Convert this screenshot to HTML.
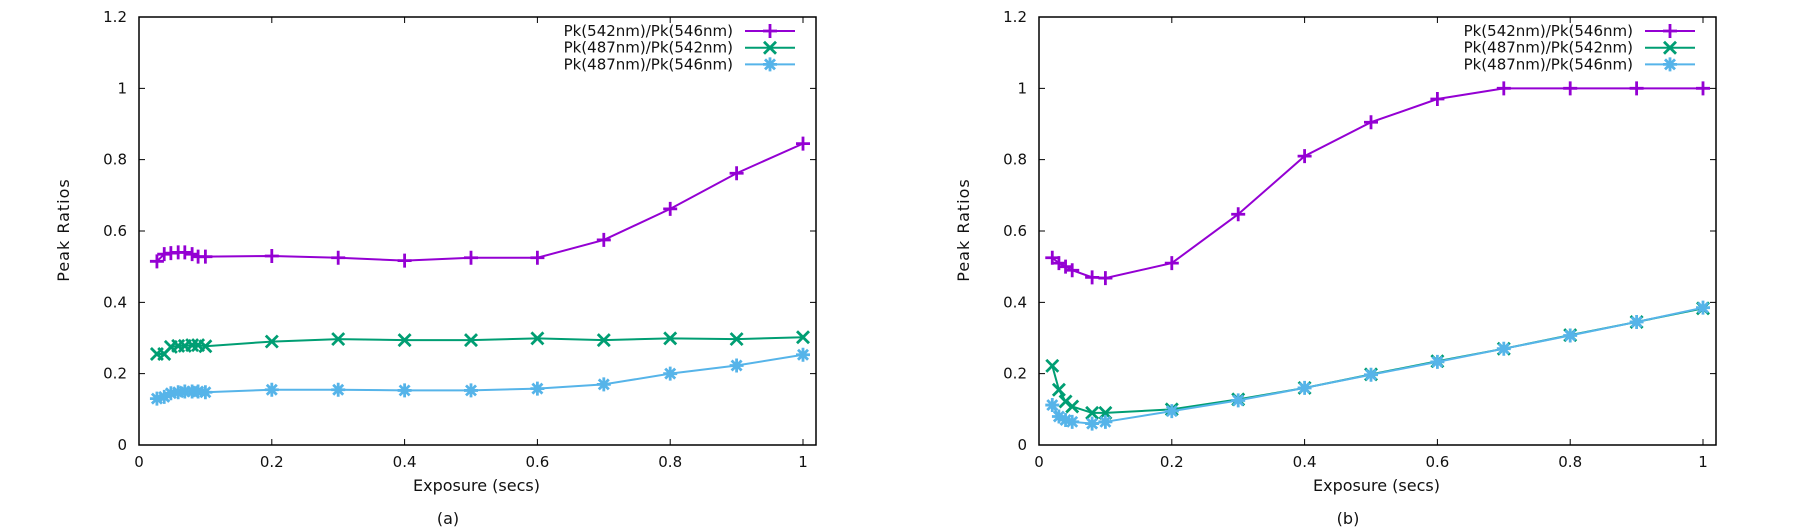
<!DOCTYPE html>
<html><head><meta charset="utf-8"><style>
body{margin:0;background:#fff;width:1800px;height:532px;overflow:hidden}
svg{display:block}
text{font-family:"DejaVu Sans","Liberation Sans",sans-serif;fill:#111}
</style></head><body>
<svg id="chart" width="1800" height="532"></svg>
<script>
const yTicks=[0,0.2,0.4,0.6,0.8,1,1.2];
const yTickLabels=["0","0.2","0.4","0.6","0.8","1","1.2"];
const xTicks=[0,0.2,0.4,0.6,0.8,1];
const xTickLabels=["0","0.2","0.4","0.6","0.8","1"];
const seriesNames=["Pk(542nm)/Pk(546nm)","Pk(487nm)/Pk(542nm)","Pk(487nm)/Pk(546nm)"];
const xA=[0.027,0.038,0.048,0.059,0.069,0.08,0.089,0.1,0.2,0.3,0.4,0.5,0.6,0.7,0.8,0.9,1.0];
const a542_546=[0.515,0.535,0.538,0.54,0.54,0.535,0.528,0.528,0.53,0.525,0.517,0.525,0.525,0.575,0.662,0.762,0.845];
const a487_542=[0.255,0.255,0.275,0.278,0.278,0.28,0.28,0.277,0.29,0.297,0.294,0.294,0.299,0.294,0.299,0.297,0.302];
const a487_546=[0.13,0.135,0.145,0.148,0.15,0.15,0.15,0.148,0.155,0.155,0.153,0.153,0.158,0.17,0.2,0.223,0.253];
const xB=[0.02,0.03,0.04,0.05,0.08,0.1,0.2,0.3,0.4,0.5,0.6,0.7,0.8,0.9,1.0];
const b542_546=[0.525,0.51,0.5,0.49,0.47,0.468,0.51,0.647,0.81,0.905,0.97,1,1,1,1];
const b487_542=[0.222,0.155,0.122,0.108,0.09,0.09,0.1,0.128,0.16,0.198,0.235,0.27,0.308,0.345,0.383];
const b487_546=[0.112,0.08,0.07,0.065,0.06,0.065,0.095,0.125,0.16,0.197,0.233,0.27,0.307,0.345,0.385];
const panelLabels=["(a)","(b)"];
const colors=["#9400d3","#009e73","#56b4e9"];
const NS="http://www.w3.org/2000/svg";
const svg=document.getElementById('chart');
function mk(tag,attrs,parent,txt){const e=document.createElementNS(NS,tag);for(const k in attrs)e.setAttribute(k,attrs[k]);if(txt!==undefined)e.textContent=txt;(parent||svg).appendChild(e);return e;}
function marker(g,type,cx,cy,color){
  const s=7;let d;
  if(type===0)d=`M${cx-s} ${cy}H${cx+s}M${cx} ${cy-s}V${cy+s}`;
  else if(type===1)d=`M${cx-s+1} ${cy-s+1}L${cx+s-1} ${cy+s-1}M${cx-s+1} ${cy+s-1}L${cx+s-1} ${cy-s+1}`;
  else d=`M${cx-s} ${cy}H${cx+s}M${cx} ${cy-s}V${cy+s}M${cx-5} ${cy-5}L${cx+5} ${cy+5}M${cx-5} ${cy+5}L${cx+5} ${cy-5}`;
  const p=mk('path',{d:d,stroke:color,'stroke-width':2.8,fill:'none'},g);
  
  
}
function panel(ox,xs,series,label){
  const L=139+ox,R=816+ox,T=17,B=445;
  const X=v=>L+v*664, Y=v=>B-v*(B-T)/1.2;
  const g=mk('g',{});
  
  
  const f=mk('rect',{x:L,y:T,width:R-L,height:B-T,fill:'none',stroke:'#000','stroke-width':1.5},g);
  
  yTicks.forEach((v,i)=>{const y=Y(v);
    mk('path',{d:`M${L} ${y}h6M${R} ${y}h-6`,stroke:'#000','stroke-width':1},g);
    const t=mk('text',{x:L-12,y:y+5,'text-anchor':'end','font-size':15},g,yTickLabels[i]);
    });
  xTicks.forEach((v,i)=>{const x=X(v);
    mk('path',{d:`M${x} ${B}v-6M${x} ${T}v6`,stroke:'#000','stroke-width':1},g);
    const t=mk('text',{x:x,y:467,'text-anchor':'middle','font-size':15},g,xTickLabels[i]);
    });
  const xt=mk('text',{x:L+(R-L)/2-1,y:491,'text-anchor':'middle','font-size':16},g,'Exposure (secs)');
  
  const yt=mk('text',{x:0,y:0,'text-anchor':'middle','font-size':16,'letter-spacing':'1',transform:`translate(${ox+69},230) rotate(-90)`},g,'Peak Ratios');
  
  const pl=mk('text',{x:ox+448,y:524,'text-anchor':'middle','font-size':16},g,label);
  
  series.forEach((vals,si)=>{
    const sg=mk('g',{},g);
    
    const pts=vals.map((v,i)=>X(xs[i])+','+Y(v)).join(' ');
    const pl2=mk('polyline',{points:pts,fill:'none',stroke:colors[si],'stroke-width':2},sg);
    
    vals.forEach((v,i)=>marker(sg,si,X(xs[i]),Y(v),colors[si]));
    const ly=31+si*16.7;
    const lt=mk('text',{x:ox+733,y:ly+5,'text-anchor':'end','font-size':15},sg,seriesNames[si]);
    
    mk('path',{d:`M${ox+745} ${ly}H${ox+795}`,stroke:colors[si],'stroke-width':2},sg);
    marker(sg,si,ox+770,ly,colors[si]);
  });
}
panel(0,xA,[a542_546,a487_542,a487_546],panelLabels[0]);
panel(900,xB,[b542_546,b487_542,b487_546],panelLabels[1]);
</script>
</body></html>
